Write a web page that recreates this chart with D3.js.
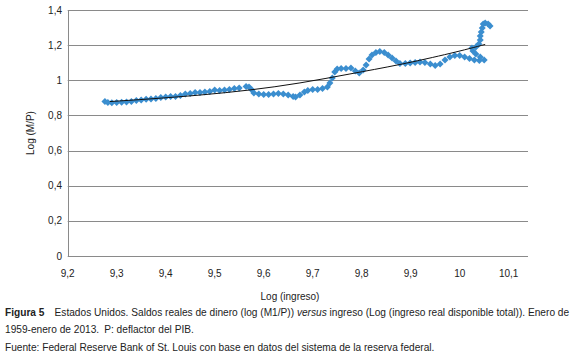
<!DOCTYPE html>
<html>
<head>
<meta charset="utf-8">
<script src="https://d3js.org/d3.v7.min.js"></script>
<style>
body { margin: 0; background-color: white; }
text { font-family: "Liberation Sans", Arial, sans-serif; }
.caption { font-family: "Liberation Sans", Arial, sans-serif; font-size: 10.5px; fill: #222; }
</style>
</head>
<body>
<svg id="chart"></svg>
</body>
<script>
// log(ingreso) vs log(M/P)
var ingreso = [9.276, 9.282, 9.29, 9.30, 9.31, 9.32, 9.33, 9.34, 9.35, 9.36, 9.37, 9.38, 9.39, 9.40,
  9.41, 9.42, 9.43, 9.44, 9.45, 9.46, 9.47, 9.48, 9.49, 9.50, 9.51, 9.52, 9.53, 9.54, 9.55,
  9.564, 9.57, 9.576, 9.58, 9.59, 9.60, 9.61, 9.62, 9.63, 9.64, 9.65, 9.66, 9.665, 9.674,
  9.683, 9.69, 9.70, 9.71, 9.72, 9.73, 9.735, 9.74, 9.745, 9.75, 9.758, 9.768, 9.778, 9.787,
  9.795, 9.803, 9.809, 9.815, 9.821, 9.829, 9.837, 9.846, 9.854, 9.862, 9.87, 9.878, 9.889,
  9.899, 9.909, 9.919, 9.929, 9.94, 9.95, 9.96, 9.97, 9.98, 9.99, 10.00, 10.01, 10.02, 10.03,
  10.04, 10.05, 10.042, 10.033, 10.027, 10.025, 10.033, 10.039, 10.042, 10.042, 10.044,
  10.046, 10.048, 10.052, 10.058, 10.062];
var saldos = [0.879, 0.874, 0.872, 0.874, 0.875, 0.876, 0.879, 0.885, 0.888, 0.892, 0.894, 0.896, 0.902, 0.905,
  0.908, 0.908, 0.913, 0.922, 0.925, 0.93, 0.93, 0.933, 0.936, 0.945, 0.942, 0.945, 0.948, 0.953, 0.956,
  0.965, 0.962, 0.945, 0.928, 0.922, 0.919, 0.919, 0.922, 0.925, 0.922, 0.916, 0.908, 0.905, 0.916,
  0.933, 0.942, 0.948, 0.948, 0.953, 0.962, 0.985, 1.013, 1.047, 1.064, 1.067, 1.067, 1.07, 1.053,
  1.042, 1.059, 1.087, 1.121, 1.144, 1.158, 1.164, 1.158, 1.144, 1.127, 1.11, 1.096, 1.096,
  1.098, 1.101, 1.104, 1.101, 1.093, 1.084, 1.093, 1.116, 1.133, 1.141, 1.141, 1.133, 1.124, 1.116,
  1.113, 1.116, 1.133, 1.15, 1.167, 1.184, 1.19, 1.207, 1.229, 1.252, 1.275,
  1.298, 1.32, 1.326, 1.32, 1.309];

// trend line, also
var trendX = [9.286, 9.368, 9.470, 9.572, 9.674, 9.776, 9.878, 9.980, 10.052];
var trendY = [0.879, 0.894, 0.916, 0.945, 0.985, 1.036, 1.090, 1.153, 1.204];

var xTicks = [9.2, 9.3, 9.4, 9.5, 9.6, 9.7, 9.8, 9.9, 10, 10.1];
var yTicks = [0, 0.2, 0.4, 0.6, 0.8, 1, 1.2, 1.4];

const width = 580, height = 360;
var svg = d3.select("#chart").attr("width", width).attr("height", height);

var x = d3.scaleLinear().domain([9.2, 10.1]).range([67.7, 508.7]);
var y = d3.scaleLinear().domain([0, 1.4]).range([256, 10]);
var fmt = function(d) { return String(+d.toFixed(1)).replace(".", ","); };
var gridRight = 528;

// horizontal gridlines
svg.append("g").selectAll("line").data(yTicks).enter().append("line")
  .attr("x1", x(9.2)).attr("x2", gridRight)
  .attr("y1", d => Math.round(y(d)) + 0.5).attr("y2", d => Math.round(y(d)) + 0.5)
  .attr("stroke", "#8a8a8a").attr("stroke-width", 1);

// left axis line
svg.append("line")
  .attr("x1", Math.round(x(9.2)) + 0.5).attr("x2", Math.round(x(9.2)) + 0.5)
  .attr("y1", Math.round(y(1.4)) + 0.5).attr("y2", Math.round(y(0)) + 0.5)
  .attr("stroke", "#8a8a8a");

svg.append("g").selectAll("text").data(yTicks).enter().append("text")
  .attr("x", 62).attr("y", d => y(d) + 3.5)
  .attr("text-anchor", "end").attr("font-size", 10).attr("fill", "#222")
  .text(fmt);

svg.append("g").selectAll("text").data(xTicks).enter().append("text")
  .attr("x", d => x(d)).attr("y", 277)
  .attr("text-anchor", "middle").attr("font-size", 10).attr("fill", "#222")
  .text(fmt);

svg.append("text").attr("x", 290).attr("y", 300)
  .attr("text-anchor", "middle").attr("font-size", 10).attr("fill", "#222")
  .text("Log (ingreso)");

svg.append("text").attr("transform", "translate(34,133) rotate(-90)")
  .attr("text-anchor", "middle").attr("font-size", 10).attr("fill", "#222")
  .text("Log (M/P)");

// data markers (diamonds)
var pts = ingreso.map((d, i) => [d, saldos[i]]);
svg.append("g").selectAll("path").data(pts).enter().append("path")
  .attr("d", "M0,-3.5L3.5,0L0,3.5L-3.5,0Z")
  .attr("transform", d => "translate(" + x(d[0]) + "," + y(d[1]) + ")")
  .attr("fill", "#3b8ecf");

// trend line
var line = d3.line().curve(d3.curveNatural)
  .x(d => x(d[0])).y(d => y(d[1]));
svg.append("path")
  .datum(trendX.map((d, i) => [d, trendY[i]]))
  .attr("d", line).attr("fill", "none")
  .attr("stroke", "#111").attr("stroke-width", 1);

// caption, squeezed horizontally like the condensed face of the original
var capG = svg.append("g");
var cap = capG.append("text").attr("class", "caption").attr("x", 0).attr("y", 316);
cap.append("tspan").attr("font-weight", "bold").text("Figura 5");
cap.append("tspan").text("\u2003Estados Unidos. Saldos reales de dinero (log (M1/P)) ");
cap.append("tspan").attr("font-style", "italic").text("versus");
cap.append("tspan").text(" ingreso (Log (ingreso real disponible total)). Enero de");
capG.append("text").attr("class", "caption").attr("x", 0).attr("y", 333)
  .text("1959-enero de 2013.\u2002P: deflactor del PIB.");
capG.append("text").attr("class", "caption").attr("x", 0).attr("y", 351)
  .text("Fuente: Federal Reserve Bank of St. Louis con base en datos del sistema de la reserva federal.");
var k = 565 / cap.node().getComputedTextLength();
capG.attr("transform", "translate(5,0) scale(" + k + ",1)");
</script>
</html>
